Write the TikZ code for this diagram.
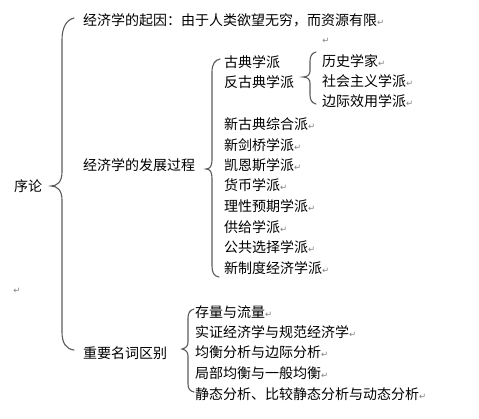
\documentclass[tikz,border=0pt]{standalone}
\usepackage{fontspec}
\setmainfont{Noto Sans CJK SC}
\newfontfamily\retfont{DejaVu Sans}
\newcommand{\ret}{{\retfont\fontsize{8.5}{8.5}\selectfont\color{retgray}↵}}
\definecolor{retgray}{HTML}{808080}
\definecolor{bracegray}{HTML}{5A5A5A}
\tikzset{
  lbl/.style={anchor=west, inner sep=0pt, font=\fontsize{14}{15}\selectfont},
  retmark/.style={anchor=center, inner sep=0pt},
  brace/.style={draw=bracegray, line width=1.1pt, line cap=round}
}
\begin{document}
\begin{tikzpicture}[x=1pt, y=-1pt]
\useasboundingbox (0,0) rectangle (479,418);
% root
\node[lbl] (root) at (14,186) {序论};
% level 1
\node[lbl] (cause) at (83,20) {经济学的起因：由于人类欲望无穷，而资源有限\ret};
\node[retmark] (r1) at (326,41) {\ret};
\node[lbl] (dev) at (83,165) {经济学的发展过程};
\node[lbl] (terms) at (83,353) {重要名词区别};
\node[retmark] (r2) at (17,291) {\ret};
% development items
\node[lbl] (d1) at (224,62) {古典学派};
\node[lbl] (d2) at (224,82) {反古典学派};
\node[lbl] (d3) at (224,124) {新古典综合派\ret};
\node[lbl] (d4) at (224,145) {新剑桥学派\ret};
\node[lbl] (d5) at (224,165) {凯恩斯学派\ret};
\node[lbl] (d6) at (224,185) {货币学派\ret};
\node[lbl] (d7) at (224,206) {理性预期学派\ret};
\node[lbl] (d8) at (224,227) {供给学派\ret};
\node[lbl] (d9) at (224,247) {公共选择学派\ret};
\node[lbl] (d10) at (224,268) {新制度经济学派\ret};
% anti-classical sub items
\node[lbl] (a1) at (322,61) {历史学家\ret};
\node[lbl] (a2) at (322,81) {社会主义学派\ret};
\node[lbl] (a3) at (322,101) {边际效用学派\ret};
% terms
\node[lbl] (t1) at (195,312) {存量与流量\ret};
\node[lbl] (t2) at (195,332) {实证经济学与规范经济学\ret};
\node[lbl] (t3) at (195,352) {均衡分析与边际分析\ret};
\node[lbl] (t4) at (195,373) {局部均衡与一般均衡\ret};
\node[lbl] (t5) at (195,394) {静态分析、比较静态分析与动态分析\ret};
% braces
% big brace
\draw[brace] (74,18) .. controls (66,20) and (62,28) .. (62,40)
  -- (62,172) .. controls (62,182) and (57,186) .. (51,186)
  .. controls (57,186) and (62,190) .. (62,200)
  -- (62,332) .. controls (62,343) and (66,349) .. (74,350);
% development brace
\draw[brace] (220,59) .. controls (215,60) and (212,64) .. (212,72)
  -- (212,160) .. controls (212,166) and (210,169) .. (206,169)
  .. controls (210,169) and (212,172) .. (212,178)
  -- (212,266) .. controls (212,273) and (214,276) .. (219,277);
% anti-classical brace
\draw[brace] (316,52) .. controls (312,53) and (310,56) .. (310,61)
  -- (310,71) .. controls (310,75) and (307,77) .. (303,77)
  .. controls (307,77) and (310,79) .. (310,83)
  -- (310,95) .. controls (310,100) and (312,103) .. (316,104);
% terms brace
\draw[brace] (194,309) .. controls (190,310) and (188,313) .. (188,318)
  -- (188,342) .. controls (188,346) and (186,348) .. (182,349)
  .. controls (186,350) and (188,352) .. (188,356)
  -- (188,384) .. controls (188,389) and (190,391) .. (194,392);
\end{tikzpicture}
\end{document}
